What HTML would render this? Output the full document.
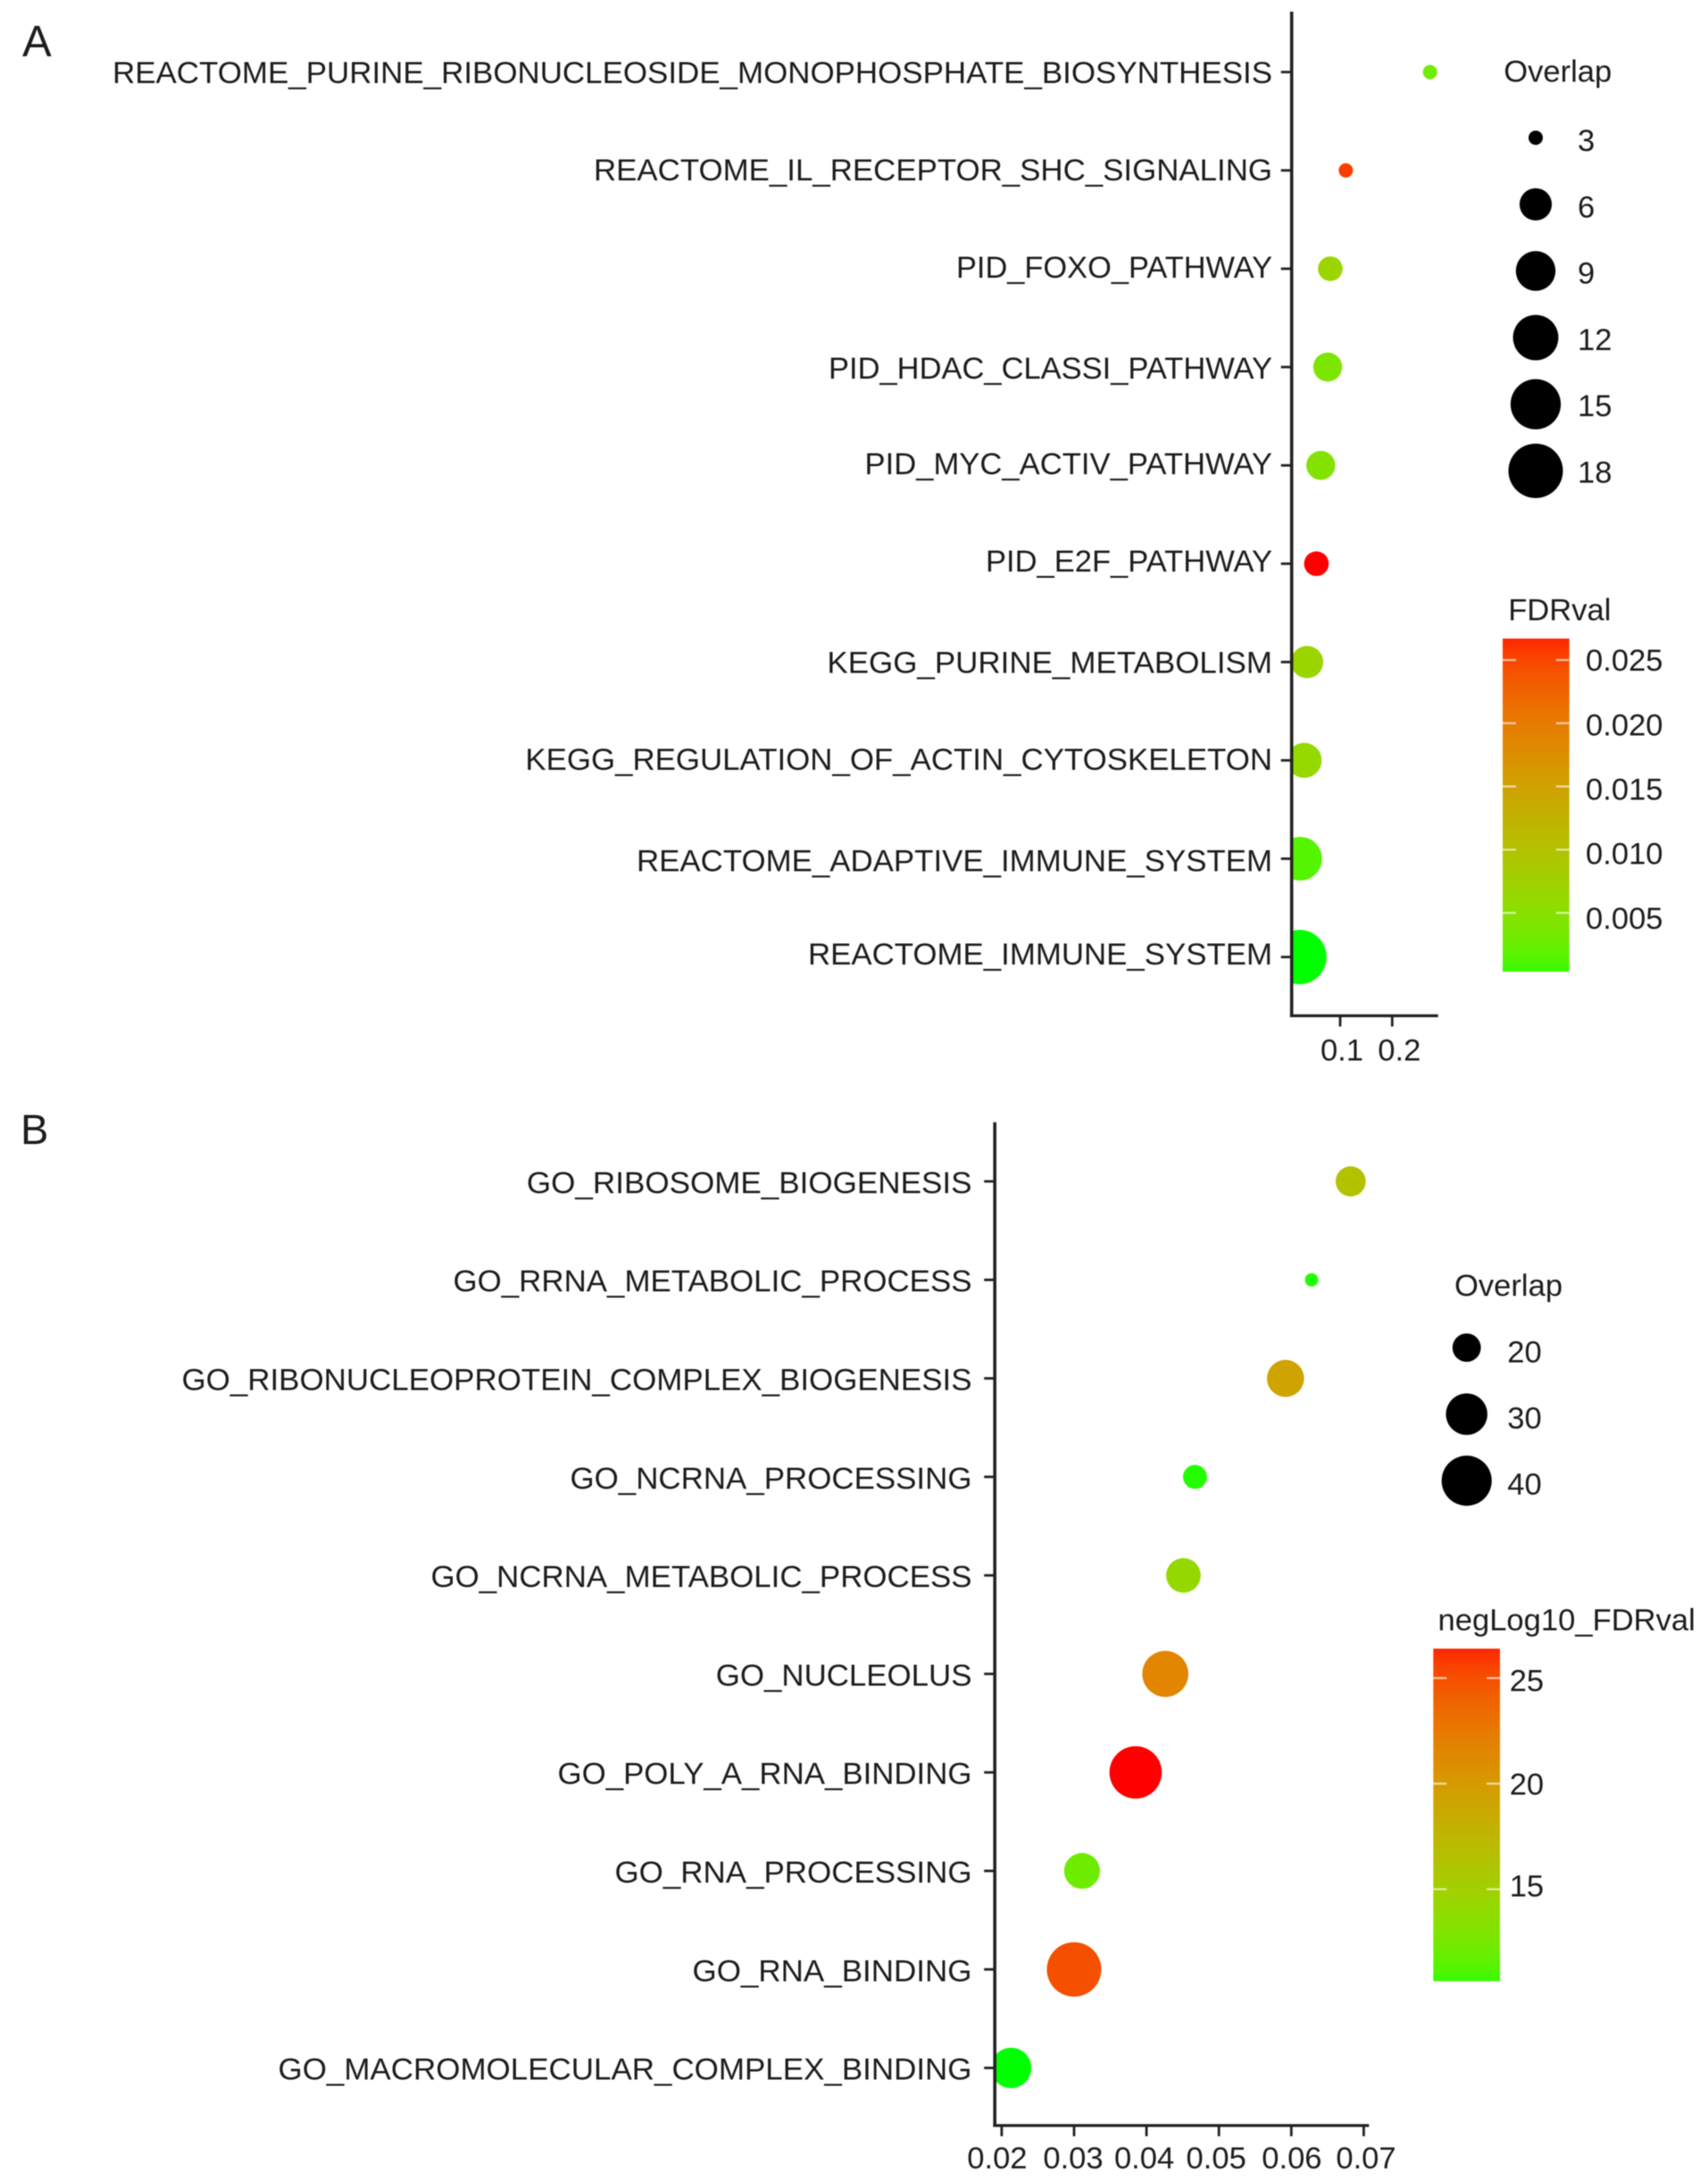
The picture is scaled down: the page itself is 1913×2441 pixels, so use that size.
<!DOCTYPE html>
<html lang="en">
<head>
<meta charset="utf-8">
<title>Enrichment dot plots</title>
<style>
html,body{margin:0;padding:0;background:#fff;width:1913px;height:2441px;overflow:hidden}
svg{display:block;filter:blur(0.5px)}
text{font-family:"Liberation Sans",Arial,sans-serif;fill:#1c1c1c}
</style>
</head>
<body>
<svg id="figure" xmlns="http://www.w3.org/2000/svg" width="1913" height="2441" viewBox="0 0 1913 2441">
  <defs>
    <clipPath id="clip-a"><rect x="1446.7" y="0" width="400" height="1137"/></clipPath>
    <clipPath id="clip-b"><rect x="1114.2" y="1240" width="500" height="1140"/></clipPath>
    <linearGradient id="grad-a" x1="0" y1="1" x2="0" y2="0"></linearGradient>
    <linearGradient id="grad-b" x1="0" y1="1" x2="0" y2="0"></linearGradient>
  </defs>
  <text x="25" y="63" font-size="49">A</text>
  <text x="23" y="1281" font-size="47">B</text>
</svg>
<script>
// ---------- Panel A data ----------
const categoriesA = ["REACTOME_PURINE_RIBONUCLEOSIDE_MONOPHOSPHATE_BIOSYNTHESIS","REACTOME_IL_RECEPTOR_SHC_SIGNALING","PID_FOXO_PATHWAY","PID_HDAC_CLASSI_PATHWAY","PID_MYC_ACTIV_PATHWAY","PID_E2F_PATHWAY","KEGG_PURINE_METABOLISM","KEGG_REGULATION_OF_ACTIN_CYTOSKELETON","REACTOME_ADAPTIVE_IMMUNE_SYSTEM","REACTOME_IMMUNE_SYSTEM"];
const ratioA = [0.2727,0.1109,0.0811,0.0760,0.0628,0.0544,0.0365,0.0309,0.0233,0.0216];
const overlapA = [3,3,4,5,5,4,6,7,11,18];
const fdrA = [0.0035,0.0248,0.0074,0.0045,0.0051,0.0267,0.0072,0.0066,0.0021,0.0003];
const xTicksA = [0.1,0.2];
const xTickLabelsA = ["0.1","0.2"];
const sizeLegendA = [3,6,9,12,15,18];
const colorTicksA = [0.025,0.020,0.015,0.010,0.005];
const colorTickLabelsA = ["0.025","0.020","0.015","0.010","0.005"];

// ---------- Panel B data ----------
const categoriesB = ["GO_RIBOSOME_BIOGENESIS","GO_RRNA_METABOLIC_PROCESS","GO_RIBONUCLEOPROTEIN_COMPLEX_BIOGENESIS","GO_NCRNA_PROCESSING","GO_NCRNA_METABOLIC_PROCESS","GO_NUCLEOLUS","GO_POLY_A_RNA_BINDING","GO_RNA_PROCESSING","GO_RNA_BINDING","GO_MACROMOLECULAR_COMPLEX_BINDING"];
const ratioB = [0.0682,0.0628,0.0592,0.0467,0.0451,0.0426,0.0385,0.0311,0.0300,0.0213];
const overlapB = [21,16,26,18,24,35,43,25,46,29];
const fdrB = [16.5,10.8,19.2,10.8,14.4,21.5,26.4,12.5,24.6,10.6];
const xTicksB = [0.02,0.03,0.04,0.05,0.06,0.07];
const xTickLabelsB = ["0.02","0.03","0.04","0.05","0.06","0.07"];
const sizeLegendB = [20,30,40];
const colorTicksB = [25,20,15];
const colorTickLabelsB = ["25","20","15"];

// ---------- Layout (not data) ----------
const FONT = 34.6, CAP = 12.4, AXIS = "#222", NS = "http://www.w3.org/2000/svg";
const svg = document.getElementById('figure');

const layoutA = {
  key:'a', clip:'clip-a', grad:'grad-a',
  axisX:1446.7, axisTop:13, axisY:1137.4, axisRight:1610.7,
  x0:0.1, x0px:1501, pxPerUnit:583,
  rowTop:80.7, rowStep:110.1, labelRight:1425,
  labelDy:[0,-1,-2.5,0.5,-2.5,-3.5,0,-2,1.5,-4],
  labelFit:[1299,760,354,497,456.5,321,498.6,836.6,712,520],
  xLabelBaseline:1187.4, xLabelDx:[2,8],
  rMin:8, rSpan:22.5, nMin:3, nSpan:15,
  legendTitle:'Overlap', legendTitleX:1684.2, legendTitleY:79,
  legendCx:1720, legendTop:154.2, legendStep:74.6,
  legendLabelX:1767, legendLabelTop:156.7, legendLabelStep:74.25,
  barTitle:'FDRval', barTitleX:1689.2, barTitleY:682,
  barX:1683, barW:74.7, barTop:715, barBottom:1088, c0:0.005, c0px:1022.2, cPxPerUnit:14160,
  barLabelX:1776, barLabelDy:[-0.4,1.2,2.7,3.8,5.4], cMin:0.0003, cMax:0.0267
};
const layoutB = {
  key:'b', clip:'clip-b', grad:'grad-b',
  axisX:1114.2, axisTop:1256.6, axisY:2380, axisRight:1533.3,
  x0:0.02, x0px:1121.9, pxPerUnit:8110,
  rowTop:1322.8, rowStep:110.3, labelRight:1088.5,
  labelDy:[0.7,0.7,0.7,0.7,0.7,0.7,0.7,0.7,0.7,0.7],
  labelFit:[498.6,581,885,450,606,286.7,464,400,313,777],
  xLabelBaseline:2428, xLabelDx:[-5,-1,-2.5,-3,0.6,2.6],
  rMin:7.5, rSpan:23, nMin:16, nSpan:30,
  legendTitle:'Overlap', legendTitleX:1629, legendTitleY:1438.6,
  legendCx:1642.7, legendTop:1509, legendStep:74.5,
  legendLabelX:1688.3, legendLabelTop:1513, legendLabelStep:74,
  barTitle:'negLog10_FDRval', barTitleX:1610.5, barTitleY:1813,
  barX:1605.3, barW:74.7, barTop:1846, barBottom:2218.4, c0:25, c0px:1879, cPxPerUnit:23.64,
  barLabelX:1690.7, barLabelDy:[2.3,0,-4.4], cMin:10.6, cMax:26.4
};

// ---------- Colour: green → red interpolated in Lab ----------
function srgbToLab(r,g,b){
  const f=c=>{c/=255;return c<=0.04045?c/12.92:Math.pow((c+0.055)/1.055,2.4);};
  const R=f(r),G=f(g),B=f(b);
  const X=(0.4124*R+0.3576*G+0.1805*B)/0.95047,Y=0.2126*R+0.7152*G+0.0722*B,Z=(0.0193*R+0.1192*G+0.9505*B)/1.08883;
  const h=t=>t>0.008856?Math.cbrt(t):7.787*t+16/116;
  return [116*h(Y)-16,500*(h(X)-h(Y)),200*(h(Y)-h(Z))];
}
function labToHex(L,a,b){
  const fy=(L+16)/116,fx=fy+a/500,fz=fy-b/200;
  const inv=t=>t*t*t>0.008856?t*t*t:(t-16/116)/7.787;
  const X=inv(fx)*0.95047,Y=inv(fy),Z=inv(fz)*1.08883;
  const lin=[3.2406*X-1.5372*Y-0.4986*Z,-0.9689*X+1.8758*Y+0.0415*Z,0.0557*X-0.204*Y+1.057*Z];
  const g=c=>{c=Math.max(0,Math.min(1,c));c=c<=0.0031308?12.92*c:1.055*Math.pow(c,1/2.4)-0.055;return Math.round(c*255).toString(16).padStart(2,'0');};
  return '#'+lin.map(g).join('');
}
const LAB_LOW=srgbToLab(0,255,0), LAB_HIGH=srgbToLab(255,0,0);
function ramp(t){
  t=Math.max(0,Math.min(1,t));
  return labToHex(LAB_LOW[0]+(LAB_HIGH[0]-LAB_LOW[0])*t,LAB_LOW[1]+(LAB_HIGH[1]-LAB_LOW[1])*t,LAB_LOW[2]+(LAB_HIGH[2]-LAB_LOW[2])*t);
}

// ---------- Helpers ----------
function make(tag,attrs,parent){
  const el=document.createElementNS(NS,tag);
  for(const k in attrs){el.setAttribute(k,attrs[k]);}
  (parent||svg).appendChild(el);
  return el;
}

function drawPanel(L,categories,ratio,overlap,fdr,xTicks,xTickLabels,sizeLegend,colorTicks,colorTickLabels){
  const xScale=v=>L.x0px+(v-L.x0)*L.pxPerUnit;
  const yScale=i=>L.rowTop+i*L.rowStep;
  const rScale=n=>L.rMin+L.rSpan*Math.sqrt(Math.max(0,(n-L.nMin)/L.nSpan));
  const cNorm=v=>(v-L.cMin)/(L.cMax-L.cMin);
  const cScale=v=>L.c0px-(v-L.c0)*L.cPxPerUnit;

  const dots=make('g',{'clip-path':'url(#'+L.clip+')'});
  
  
  categories.forEach((c,i)=>{
    const dot=make('circle',{cx:xScale(ratio[i]),cy:yScale(i),r:rScale(overlap[i]),fill:ramp(cNorm(fdr[i]))},dots);
    
    
  });

  const yAxis=make('line',{x1:L.axisX,x2:L.axisX,y1:L.axisTop,y2:L.axisY+1.5,stroke:AXIS,'stroke-width':3.6});
  
  
  const xAxis=make('line',{x1:L.axisX-1.8,x2:L.axisRight,y1:L.axisY,y2:L.axisY,stroke:AXIS,'stroke-width':3.2});
  
  

  categories.forEach((c,i)=>{
    const tick=make('line',{x1:L.axisX-12,x2:L.axisX,y1:yScale(i),y2:yScale(i),stroke:AXIS,'stroke-width':2.8});
    
    
    const label=make('text',{x:L.labelRight,y:yScale(i)+CAP+L.labelDy[i],'text-anchor':'end','font-size':FONT,textLength:L.labelFit[i],lengthAdjust:'spacingAndGlyphs'});
    label.textContent=c;
    
    
  });

  xTicks.forEach((v,i)=>{
    const tick=make('line',{x1:xScale(v),x2:xScale(v),y1:L.axisY,y2:L.axisY+12,stroke:AXIS,'stroke-width':2.8});
    
    
    const label=make('text',{x:xScale(v)+L.xLabelDx[i],y:L.xLabelBaseline,'text-anchor':'middle','font-size':FONT});
    label.textContent=xTickLabels[i];
    
    
  });

  const sizeTitle=make('text',{x:L.legendTitleX,y:L.legendTitleY+CAP,'font-size':FONT});
  sizeTitle.textContent=L.legendTitle;
  
  
  sizeLegend.forEach((n,i)=>{
    const cy=L.legendTop+i*L.legendStep;
    const key=make('circle',{cx:L.legendCx,cy:cy,r:rScale(n),fill:'#000'});
    
    
    const label=make('text',{x:L.legendLabelX,y:L.legendLabelTop+i*L.legendLabelStep+CAP,'font-size':FONT});
    label.textContent=String(n);
    
    
  });

  const grad=document.getElementById(L.grad);
  for(let s=0;s<=20;s++){
    const f=s/20;
    make('stop',{offset:f,'stop-color':ramp(0.03+0.94*f)},grad);
  }
  const barTitle=make('text',{x:L.barTitleX,y:L.barTitleY+CAP,'font-size':FONT});
  barTitle.textContent=L.barTitle;
  
  
  const bar=make('rect',{x:L.barX,y:L.barTop,width:L.barW,height:L.barBottom-L.barTop,fill:'url(#'+L.grad+')'});
  
  
  colorTicks.forEach((v,i)=>{
    const y=cScale(v);
    const left=make('line',{x1:L.barX,x2:L.barX+15,y1:y,y2:y,stroke:'#fff','stroke-opacity':0.65,'stroke-width':2.2});
    
    
    const right=make('line',{x1:L.barX+L.barW-15,x2:L.barX+L.barW,y1:y,y2:y,stroke:'#fff','stroke-opacity':0.65,'stroke-width':2.2});
    
    
    const label=make('text',{x:L.barLabelX,y:y+CAP+L.barLabelDy[i],'font-size':FONT});
    label.textContent=colorTickLabels[i];
    
    
  });
}

drawPanel(layoutA,categoriesA,ratioA,overlapA,fdrA,xTicksA,xTickLabelsA,sizeLegendA,colorTicksA,colorTickLabelsA);
drawPanel(layoutB,categoriesB,ratioB,overlapB,fdrB,xTicksB,xTickLabelsB,sizeLegendB,colorTicksB,colorTickLabelsB);
</script>
</body>
</html>
